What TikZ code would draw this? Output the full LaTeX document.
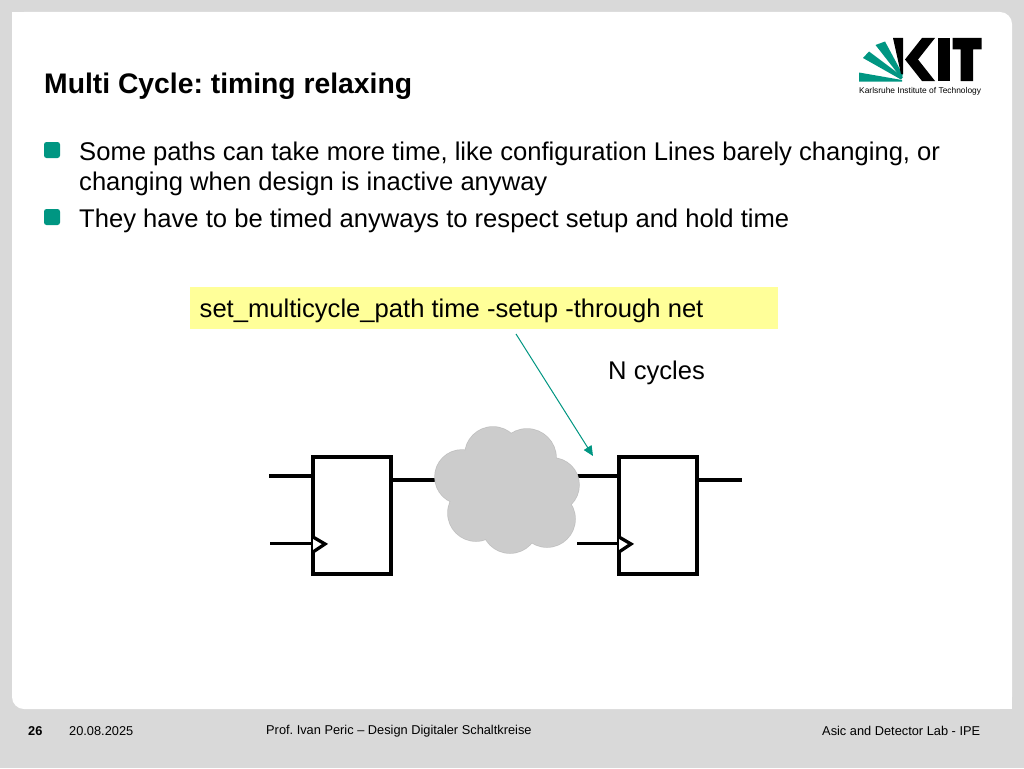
\documentclass[tikz,border=0pt]{standalone}
\usepackage{fontspec}
\setmainfont{Liberation Sans}
\usetikzlibrary{arrows.meta}
\usetikzlibrary{positioning}
\definecolor{kitgreen}{HTML}{009682}
\definecolor{slidegray}{HTML}{D9D9D9}
\definecolor{cloudgray}{HTML}{CCCCCC}
\definecolor{cloudedge}{HTML}{C0C0C0}
\definecolor{cmdyellow}{HTML}{FFFF99}
\tikzset{
  bodytext/.style={anchor=base west,inner sep=0pt,font=\fontsize{25.6}{30}\selectfont},
  foottext/.style={anchor=base west,inner sep=0pt,font=\fontsize{12.8}{15}\selectfont},
  bullet/.style={fill=kitgreen,rounded corners=2.5pt},
  flipflop/.style={draw,line width=4pt,fill=white,minimum width=78pt,minimum height=117pt,inner sep=0pt},
  wire/.style={line width=3.3pt},
}
\frenchspacing
\begin{document}
\begin{tikzpicture}[line cap=butt,line join=miter,>={Triangle[length=10pt,width=9pt]},x=1.0pt,y=-1.0pt]
      \useasboundingbox (0,0) rectangle (1024,768);
      \fill [slidegray] (0,0) rectangle (1024,768);
      \fill [white,rounded corners=12pt] (12,12) rectangle (1012,709);
      \fill [white] (12,12) rectangle (40,40);
      \fill [white] (984,680) rectangle (1012,709);
      % title and bullets
      \node [anchor=base west,inner sep=0pt,font=\bfseries\fontsize{28.3}{32}\selectfont] (title) at (44,93.5) {Multi Cycle: timing relaxing};
      \fill [bullet] (44,142) rectangle (60,158);
      \fill [bullet] (44,209) rectangle (60,225);
      \node [bodytext] (lineone) at (79,160) {Some paths can take more time, like configuration Lines barely changing, or};
      \node [bodytext] (linetwo) at (79,190) {changing when design is inactive anyway};
      \node [bodytext] (linethree) at (79,227) {They have to be timed anyways to respect setup and hold time};
      % logo
      \fill [kitgreen] (859,72.5) -- (859,81.5) -- (902,81.5) -- (902,80) -- cycle;
      \fill [kitgreen] (863,58) -- (869,51.5) -- (903,77) -- (901,79.5) -- cycle;
      \fill [kitgreen] (875.5,45) -- (885,41.5) -- (903,75) -- (900.5,77) -- cycle;
      \fill [black] (893,38) -- (903,38) -- (903,74) -- (901,74) -- cycle;
      \fill [black] (922,38) -- (935,38) -- (918,59.5) -- (935,81) -- (922,81) -- (905,59.5) -- cycle;
      \fill [black] (938,38) rectangle (950,81);
      \fill [black] (952.5,38) -- (981.5,38) -- (981.5,49.5) -- (973,49.5) -- (973,81) -- (960.5,81) -- (960.5,49.5) -- (952.5,49.5) -- cycle;
      \node [anchor=base west,inner sep=0pt,font=\fontsize{8.4}{10}\selectfont] (kitname) at (859,93) {Karlsruhe Institute of Technology};
      % command box
      \node [anchor=north west,inner sep=0pt,fill=cmdyellow,minimum width=588pt,minimum height=41.5pt] (cmdbox) at (190,287) {};
      \node [bodytext] (cmdtext) at (199.5,317) {set\_multicycle\_path time -setup -through net};
      \node [bodytext] (ncycles) at (608,379) {N cycles};
      % flip flops
      \node [flipflop] (ffa) at (352,515) {};
      \node [flipflop] (ffb) at (658,515) {};
      \coordinate (ina) at (269,476);
      \coordinate (clka) at (270,543.5);
      \coordinate (cloudin) at (440,480);
      \coordinate (cloudout) at (572,476);
      \coordinate (clkb) at (577,543.5);
      \coordinate (outb) at (742,480);
      \draw [wire] (ina) -- (ina -| ffa.west);
      \draw [wire] (clka) -- (clka -| ffa.west);
      \draw [wire] (ffa.east |- cloudin) -- (cloudin);
      \draw [wire] (cloudout) -- (cloudout -| ffb.west);
      \draw [wire] (clkb) -- (clkb -| ffb.west);
      \draw [wire] (ffb.east |- outb) -- (outb);
      \draw [wire,fill=white] (313,537) -- (325,544) -- (313,552);
      \draw [wire,fill=white] (619,537) -- (631,544) -- (619,552);
      % cloud
      \foreach \cx/\cy/\cr in {493/455/28,462/477/27,527/458/29,552/485/27,547/519/28,510/525/28,476/513/28}
        \draw [cloudedge,line width=1.5pt] (\cx,\cy) circle [radius=\cr];
      \foreach \cx/\cy/\cr in {493/455/28,462/477/27,527/458/29,552/485/27,547/519/28,510/525/28,476/513/28,507/490/36}
        \fill [cloudgray] (\cx,\cy) circle [radius=\cr];
      % arrow
      \coordinate (arrowstart) at (516,334);
      \coordinate (arrowend) at (593,456);
      \draw [->,kitgreen,line width=1pt] (arrowstart) -- (arrowend);
      % footer
      \node [anchor=base west,inner sep=0pt,font=\bfseries\fontsize{12.8}{15}\selectfont] (pagenum) at (28,735) {26};
      \node [foottext] (date) at (69,735) {20.08.2025};
      \node [foottext] (author) at (266,734) {Prof. Ivan Peric – Design Digitaler Schaltkreise};
      \node [foottext] (lab) at (822,735.5) {Asic and Detector Lab - IPE};
    \end{tikzpicture}
\end{document}
